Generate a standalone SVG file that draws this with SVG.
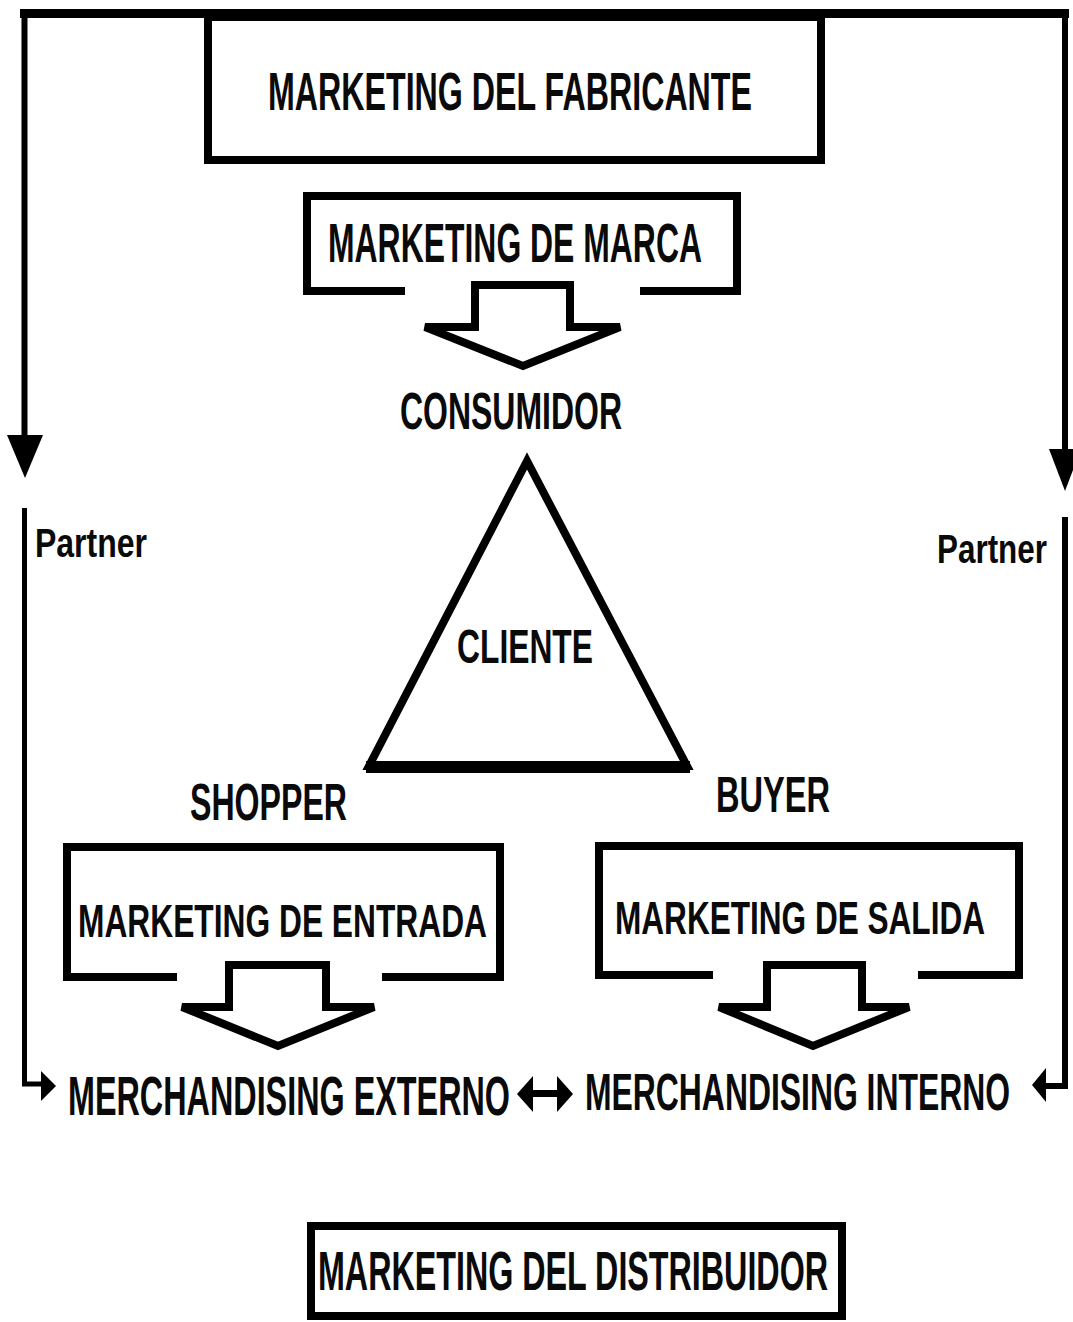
<svg xmlns="http://www.w3.org/2000/svg" width="1073" height="1322" viewBox="0 0 1073 1322">
<style>
  .t { font-family: "Liberation Sans", Arial, sans-serif; font-weight: bold; fill: #0a0a0a; }
  .box { fill: #ffffff; stroke: #000; stroke-width: 8; }
  .ln { fill: none; stroke: #000; stroke-linejoin: miter; }
  .head { fill: #000; stroke: none; }
</style>
<rect x="0" y="0" width="1073" height="1322" fill="#ffffff"/>

<g id="connectors">
  <path class="ln" stroke-width="6" d="M 24.5 436 L 24.5 13.5 L 1065 13.5 L 1065 450"/>
  <path class="ln" stroke-width="9" d="M 20 13.5 L 1069 13.5"/>
  <polygon class="head" points="7,435 43,435 25,478"/>
  <polygon class="head" points="1049,449 1081,449 1065,491"/>
  <path class="ln" stroke-width="5" d="M 24.5 508 L 24.5 1084 L 44 1084"/>
  <polygon class="head" points="41,1071 41,1101 56,1086"/>
  <path class="ln" stroke-width="6" d="M 1065 517 L 1065 1086 L 1045 1086"/>
  <polygon class="head" points="1046,1068 1046,1102 1032,1085"/>
  <path class="ln" stroke-width="7" d="M 528 1093.5 L 562 1093.5"/>
  <polygon class="head" points="517,1094 533,1076 533,1112"/>
  <polygon class="head" points="573,1094 557,1076 557,1112"/>
</g>

<g id="marketing-fabricante">
  <rect class="box" x="208" y="17" width="613" height="143"/>
  <text class="t" x="268" y="110" font-size="53" textLength="484" lengthAdjust="spacingAndGlyphs">MARKETING DEL FABRICANTE</text>
</g>

<g id="marketing-marca">
  <path class="ln" stroke-width="8" d="M 405 291 L 307 291 L 307 196 L 737 196 L 737 291 L 640 291"/>
  <path class="ln" stroke-width="8" fill="#fff" d="M 475 327 L 475 285 L 570 285 L 570 327 L 620 327 L 523 366 L 425 327 Z"/>
  <text class="t" x="328" y="262" font-size="56" textLength="374" lengthAdjust="spacingAndGlyphs">MARKETING DE MARCA</text>
</g>

<g id="consumidor">
  <text class="t" x="400" y="429" font-size="51" textLength="222" lengthAdjust="spacingAndGlyphs">CONSUMIDOR</text>
</g>

<g id="cliente">
  <polygon class="ln" stroke-width="8" points="527,461 369,766 687,766"/>
  <line x1="366" y1="767" x2="690" y2="767" stroke="#000" stroke-width="12"/>
  <text class="t" x="457" y="663" font-size="49" textLength="136" lengthAdjust="spacingAndGlyphs">CLIENTE</text>
</g>

<g id="partner-left">
  <text class="t" x="35" y="557" font-size="40" textLength="112" lengthAdjust="spacingAndGlyphs">Partner</text>
</g>
<g id="partner-right">
  <text class="t" x="937" y="563" font-size="40" textLength="110" lengthAdjust="spacingAndGlyphs">Partner</text>
</g>

<g id="shopper">
  <text class="t" x="190" y="820" font-size="52" textLength="157" lengthAdjust="spacingAndGlyphs">SHOPPER</text>
</g>
<g id="buyer">
  <text class="t" x="716" y="812" font-size="50" textLength="114" lengthAdjust="spacingAndGlyphs">BUYER</text>
</g>

<g id="marketing-entrada">
  <path class="ln" stroke-width="8" d="M 177 977 L 67 977 L 67 847 L 500 847 L 500 977 L 382 977"/>
  <path class="ln" stroke-width="8" fill="#fff" d="M 229 1007 L 229 965 L 326 965 L 326 1007 L 374 1007 L 278 1046 L 182 1007 Z"/>
  <text class="t" x="78" y="937" font-size="47" textLength="409" lengthAdjust="spacingAndGlyphs">MARKETING DE ENTRADA</text>
</g>

<g id="marketing-salida">
  <path class="ln" stroke-width="8" d="M 713 975 L 599 975 L 599 846 L 1019 846 L 1019 975 L 918 975"/>
  <path class="ln" stroke-width="8" fill="#fff" d="M 767 1007 L 767 965 L 862 965 L 862 1007 L 909 1007 L 813 1046 L 719 1007 Z"/>
  <text class="t" x="615" y="934" font-size="46" textLength="370" lengthAdjust="spacingAndGlyphs">MARKETING DE SALIDA</text>
</g>

<g id="merchandising-externo">
  <text class="t" x="68" y="1115" font-size="56" textLength="442" lengthAdjust="spacingAndGlyphs">MERCHANDISING EXTERNO</text>
</g>
<g id="merchandising-interno">
  <text class="t" x="585" y="1110" font-size="52" textLength="425" lengthAdjust="spacingAndGlyphs">MERCHANDISING INTERNO</text>
</g>

<g id="marketing-distribuidor">
  <rect class="box" x="311" y="1226" width="531" height="90"/>
  <text class="t" x="318" y="1290" font-size="56" textLength="510" lengthAdjust="spacingAndGlyphs">MARKETING DEL DISTRIBUIDOR</text>
</g>
</svg>
